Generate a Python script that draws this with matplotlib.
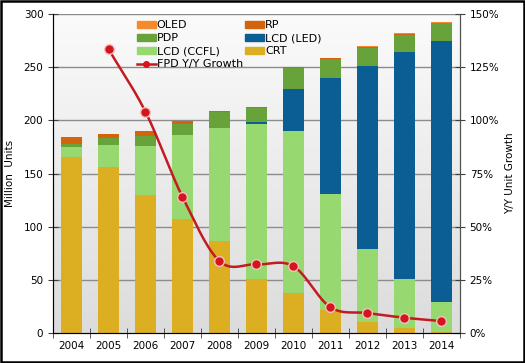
import numpy as np
import matplotlib
matplotlib.use("Agg")
import matplotlib.pyplot as plt
from matplotlib.patches import Rectangle, Patch
from matplotlib.lines import Line2D
from matplotlib.ticker import FuncFormatter

years = ['2004', '2005', '2006', '2007', '2008', '2009', '2010', '2011', '2012', '2013', '2014']
crt = [166, 156, 130, 107, 86.5, 51, 38, 21.6, 10.6, 5, 0.5]
lcd_ccfl = [9, 20.5, 46, 79, 106.5, 145.5, 152, 109, 68.4, 45.5, 28.5]
lcd_led = [0, 0, 0, 0, 0, 1.5, 39.5, 108.8, 172.4, 213.5, 246]
pdp = [3, 6.5, 9, 11, 15, 14, 19.5, 18, 17, 16.5, 16.5]
rp = [6, 4, 5, 2.5, 0.8, 0.5, 1, 1, 1, 0.8, 0.5]
oled = [0, 0, 0, 0.2, 0.2, 0.2, 0.3, 0.3, 0.4, 0.5, 0.6]
growth_years = years[1:]
growth = [133.5, 104, 64, 33.8, 32.3, 31.4, 12.1, 9.4, 7.2, 5.6]

series = [
    ('CRT', crt, '#dcae22'),
    ('LCD (CCFL)', lcd_ccfl, '#98d870'),
    ('LCD (LED)', lcd_led, '#0b5e94'),
    ('PDP', pdp, '#68a23a'),
    ('RP', rp, '#d4640c'),
    ('OLED', oled, '#f58a2c'),
]
line_color = '#c41a22'

plt.rcParams['font.family'] = ['DejaVu Sans']
plt.rcParams['font.size'] = 7.5

fig = plt.figure(figsize=(5.25, 3.63), dpi=100)
ax = fig.add_axes([0.101, 0.0826, 0.775, 0.8788])

x = np.arange(len(years))
ax.set_xlim(-0.5, len(years) - 0.5)
ax.set_ylim(0, 300)

# background gradient
grad = np.linspace(0, 1, 256).reshape(-1, 1)
ax.imshow(grad, extent=(-0.5, len(years) - 0.5, 0, 300), aspect='auto',
          cmap=matplotlib.colors.LinearSegmentedColormap.from_list('bg', ['#dcdcdc', '#fbfbfb']),
          origin='lower', zorder=0)

for v in range(50, 301, 50):
    ax.axhline(v, color='#8c8c8c', lw=1, zorder=1)

bottom = np.zeros(len(years))
handles = {}
for name, vals, col in series:
    vals = np.array(vals, dtype=float)
    ax.bar(x, vals, 0.56, bottom=bottom, color=col, zorder=2)
    bottom += vals
    handles[name] = Patch(color=col, label=name)

ax.set_xticks(x)
ax.set_xticklabels(years)
ax.set_xticks(np.arange(-0.5, len(years) - 0.4, 1), minor=True)
ax.tick_params(axis='x', which='major', length=0, pad=6)
ax.tick_params(axis='x', which='minor', direction='inout', length=7, color='#404040')
ax.set_yticks(range(0, 301, 50))
ax.tick_params(axis='y', direction='inout', length=7, color='#404040')
ax.set_ylabel('Million  Units', labelpad=6)

for s in ['top']:
    ax.spines[s].set_visible(False)
for s in ['left', 'bottom', 'right']:
    ax.spines[s].set_color('#505050')

ax2 = ax.twinx()
ax2.set_ylim(0, 150)
ax2.set_yticks(range(0, 151, 25))
ax2.yaxis.set_major_formatter(FuncFormatter(lambda v, p: f'{int(v)}%'))
ax2.tick_params(axis='y', direction='inout', length=7, color='#404040')
ax2.set_ylabel('Y/Y Unit Growth', labelpad=4)
ax2.spines['top'].set_visible(False)
ax2.spines['right'].set_color('#505050')

# smooth line through points (Catmull-Rom)
gx = np.array([years.index(y) for y in growth_years], dtype=float)
gy = np.array(growth, dtype=float)
px = np.concatenate([[2 * gx[0] - gx[1]], gx, [2 * gx[-1] - gx[-2]]])
py = np.concatenate([[2 * gy[0] - gy[1]], gy, [2 * gy[-1] - gy[-2]]])
sx, sy = [], []
t = np.linspace(0, 1, 30)
for i in range(1, len(px) - 2):
    p0, p1, p2, p3 = px[i - 1:i + 3]
    q0, q1, q2, q3 = py[i - 1:i + 3]
    for a, b, c, d, out in [(p0, p1, p2, p3, sx), (q0, q1, q2, q3, sy)]:
        out.extend(0.5 * ((2 * b) + (-a + c) * t + (2 * a - 5 * b + 4 * c - d) * t ** 2
                          + (-a + 3 * b - 3 * c + d) * t ** 3))
ax2.plot(sx, sy, color=line_color, lw=1.8, zorder=3)
ax2.plot(gx, gy, 'o', color='#d4161c', ms=7, mec='#f4c0c0', mew=1, zorder=4)

handles['FPD Y/Y Growth'] = Line2D([], [], color=line_color, lw=1.8, marker='o', ms=4,
                                   mfc='#d4161c', mec='#d4161c')
order = ['OLED', 'PDP', 'LCD (CCFL)', 'FPD Y/Y Growth', 'RP', 'LCD (LED)', 'CRT']
leg = ax2.legend([handles[k] for k in order], order, ncol=2, loc='upper left',
                 bbox_to_anchor=(0.195, 0.995), frameon=False, fontsize=8,
                 handlelength=1.7, handleheight=0.6, handletextpad=0.1,
                 labelspacing=0.28, columnspacing=0.2, borderaxespad=0)

fig.patches.append(Rectangle((0.002, 0.003), 0.996, 0.994, transform=fig.transFigure,
                             fill=False, edgecolor='black', lw=1.8))

fig.savefig('out.png', dpi=100)
